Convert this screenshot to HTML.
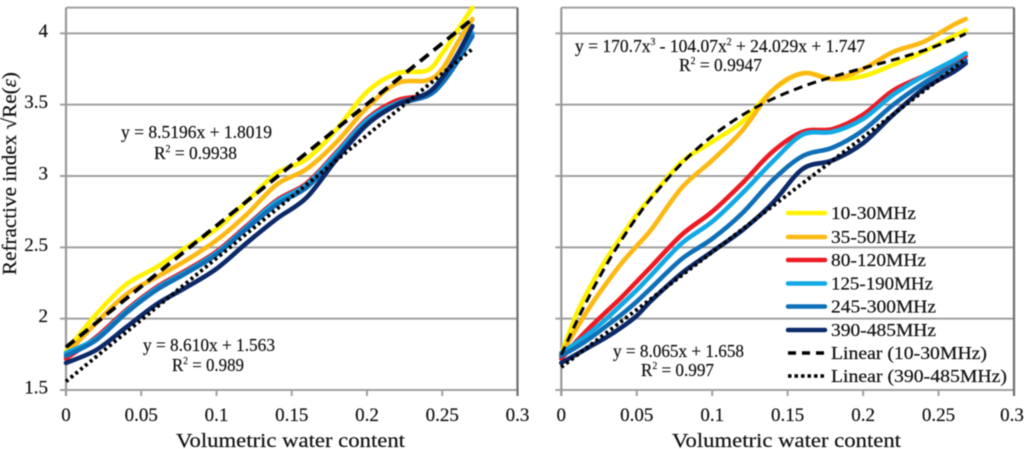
<!DOCTYPE html>
<html lang="en">
<head>
<meta charset="utf-8">
<title>Refractive index vs volumetric water content</title>
<style>
html,body{margin:0;padding:0;background:#fff;}
#chart{display:block;width:1024px;height:449px;font-family:"Liberation Serif",serif;filter:blur(0.5px);}
text{fill:#111;stroke:#111;stroke-width:0.2px;}
</style>
</head>
<body>
<svg id="chart" xmlns="http://www.w3.org/2000/svg" width="1024" height="449" viewBox="0 0 1024 449">
  <g id="left-panel"></g>
  <g id="right-panel"></g>

  <text transform="translate(16,275) rotate(-90)" font-size="20" textLength="203" lengthAdjust="spacingAndGlyphs">Refractive index √Re(<tspan font-style="italic">ε</tspan>)</text>
  <text x="176" y="447" font-size="20" textLength="229" lengthAdjust="spacingAndGlyphs">Volumetric water content</text>
  <text x="672" y="447" font-size="20" textLength="229" lengthAdjust="spacingAndGlyphs">Volumetric water content</text>

  <text x="121" y="138" font-size="18" textLength="151" lengthAdjust="spacingAndGlyphs">y = 8.5196x + 1.8019</text>
  <text x="154" y="159" font-size="18" textLength="83" lengthAdjust="spacingAndGlyphs">R<tspan font-size="10" dy="-7">2</tspan><tspan dy="7"> = 0.9938</tspan></text>
  <text x="143" y="351" font-size="18" textLength="132" lengthAdjust="spacingAndGlyphs">y = 8.610x + 1.563</text>
  <text x="172" y="371" font-size="18" textLength="72" lengthAdjust="spacingAndGlyphs">R<tspan font-size="10" dy="-7">2</tspan><tspan dy="7"> = 0.989</tspan></text>
  <text x="575" y="52" font-size="18" textLength="290" lengthAdjust="spacingAndGlyphs">y = 170.7x<tspan font-size="10" dy="-7">3</tspan><tspan dy="7"> - 104.07x</tspan><tspan font-size="10" dy="-7">2</tspan><tspan dy="7"> + 24.029x + 1.747</tspan></text>
  <text x="679" y="71" font-size="18" textLength="83" lengthAdjust="spacingAndGlyphs">R<tspan font-size="10" dy="-7">2</tspan><tspan dy="7"> = 0.9947</tspan></text>
  <text x="613" y="357" font-size="18" textLength="131" lengthAdjust="spacingAndGlyphs">y = 8.065x + 1.658</text>
  <text x="641" y="376" font-size="18" textLength="73" lengthAdjust="spacingAndGlyphs">R<tspan font-size="10" dy="-7">2</tspan><tspan dy="7"> = 0.997</tspan></text>

  <g id="legend">
    <g><line x1="788" x2="825" y1="213" y2="213" stroke="#fff200" stroke-width="4.5" stroke-linecap="round"/><text x="831" y="219" font-size="18" textLength="85" lengthAdjust="spacingAndGlyphs">10-30MHz</text></g>
    <g><line x1="788" x2="825" y1="237" y2="237" stroke="#fdb913" stroke-width="4.5" stroke-linecap="round"/><text x="831" y="243" font-size="18" textLength="85" lengthAdjust="spacingAndGlyphs">35-50MHz</text></g>
    <g><line x1="788" x2="825" y1="260" y2="260" stroke="#ed1c24" stroke-width="4.5" stroke-linecap="round"/><text x="831" y="266" font-size="18" textLength="95" lengthAdjust="spacingAndGlyphs">80-120MHz</text></g>
    <g><line x1="788" x2="825" y1="283.5" y2="283.5" stroke="#12a9e6" stroke-width="4.5" stroke-linecap="round"/><text x="831" y="289.5" font-size="18" textLength="102" lengthAdjust="spacingAndGlyphs">125-190MHz</text></g>
    <g><line x1="788" x2="825" y1="306.5" y2="306.5" stroke="#0f70b7" stroke-width="4.5" stroke-linecap="round"/><text x="831" y="312.5" font-size="18" textLength="105" lengthAdjust="spacingAndGlyphs">245-300MHz</text></g>
    <g><line x1="788" x2="825" y1="330" y2="330" stroke="#0c2a6a" stroke-width="4.5" stroke-linecap="round"/><text x="831" y="336" font-size="18" textLength="105" lengthAdjust="spacingAndGlyphs">390-485MHz</text></g>
    <g><line x1="788" x2="826" y1="353" y2="353" stroke="#000" stroke-width="3.5" stroke-dasharray="8 6"/><text x="831" y="359" font-size="18" textLength="156" lengthAdjust="spacingAndGlyphs">Linear (10-30MHz)</text></g>
    <g><line x1="788" x2="826" y1="376" y2="376" stroke="#000" stroke-width="3.5" stroke-dasharray="3.5 3"/><text x="831" y="382" font-size="18" textLength="176" lengthAdjust="spacingAndGlyphs">Linear (390-485MHz)</text></g>
  </g>
</svg>

<script>
// Axis tick labels
const xTicks = [0, 0.05, 0.1, 0.15, 0.2, 0.25, 0.3];
const yTicks = [1.5, 2, 2.5, 3, 3.5, 4];

// Series names
const seriesNames = ['10-30mhz', '35-50mhz', '80-120mhz', '125-190mhz', '245-300mhz', '390-485mhz'];

// Left panel values
const leftX = [0, 0.02, 0.04, 0.06, 0.08, 0.1, 0.12, 0.14, 0.16, 0.18, 0.2, 0.22, 0.24, 0.25, 0.26, 0.27];
const left10to30 = [1.77, 2.03, 2.24, 2.36, 2.5, 2.63, 2.82, 3.02, 3.12, 3.33, 3.59, 3.72, 3.74, 3.86, 4.02, 4.18];
const left35to50 = [1.75, 1.97, 2.17, 2.29, 2.41, 2.55, 2.73, 2.94, 3.05, 3.24, 3.48, 3.65, 3.67, 3.75, 3.93, 4.1];
const left80to120 = [1.72, 1.87, 2.06, 2.22, 2.34, 2.47, 2.65, 2.83, 2.95, 3.17, 3.4, 3.53, 3.57, 3.67, 3.82, 4.0];
const left125to190 = [1.76, 1.86, 2.05, 2.21, 2.33, 2.46, 2.64, 2.82, 2.94, 3.16, 3.39, 3.51, 3.57, 3.67, 3.82, 4.0];
const left245to300 = [1.74, 1.85, 2.04, 2.2, 2.32, 2.45, 2.63, 2.8, 2.92, 3.14, 3.37, 3.5, 3.56, 3.65, 3.8, 3.98];
const left390to485 = [1.69, 1.78, 1.94, 2.1, 2.22, 2.35, 2.53, 2.7, 2.85, 3.12, 3.36, 3.5, 3.58, 3.69, 3.85, 4.05];
const leftTrendX = [0, 0.27];
const leftTrendHigh = [1.8, 4.1];
const leftTrendLow = [1.56, 3.89];

// Right panel values
const rightX = [0, 0.01, 0.02, 0.03, 0.04, 0.05, 0.06, 0.08, 0.1, 0.12, 0.14, 0.16, 0.18, 0.2, 0.22, 0.24, 0.26, 0.268];
const right10to30 = [1.75, 2.03, 2.24, 2.42, 2.58, 2.73, 2.86, 3.1, 3.24, 3.38, 3.6, 3.72, 3.68, 3.7, 3.78, 3.87, 3.98, 4.02];
const right35to50 = [1.75, 1.93, 2.1, 2.25, 2.39, 2.51, 2.63, 2.92, 3.11, 3.32, 3.6, 3.72, 3.68, 3.75, 3.87, 3.94, 4.06, 4.1];
const right80to120 = [1.72, 1.84, 1.95, 2.05, 2.15, 2.26, 2.37, 2.59, 2.75, 2.95, 3.17, 3.31, 3.33, 3.43, 3.6, 3.7, 3.8, 3.84];
const right125to190 = [1.76, 1.83, 1.91, 2.0, 2.1, 2.2, 2.31, 2.53, 2.68, 2.88, 3.1, 3.29, 3.31, 3.4, 3.57, 3.7, 3.81, 3.86];
const right245to300 = [1.74, 1.8, 1.87, 1.95, 2.03, 2.12, 2.22, 2.42, 2.56, 2.74, 2.97, 3.14, 3.2, 3.32, 3.5, 3.65, 3.77, 3.81];
const right390to485 = [1.69, 1.75, 1.81, 1.87, 1.94, 2.02, 2.13, 2.32, 2.47, 2.62, 2.81, 3.05, 3.11, 3.23, 3.43, 3.61, 3.73, 3.79];
const rightTrendX = [0, 0.268];
const rightTrendLow = [1.66, 3.82];
const rightCurveHigh = [1.747, 1.977, 2.187, 2.379, 2.553, 2.71, 2.851, 3.091, 3.28, 3.427, 3.54, 3.627, 3.696, 3.756, 3.814, 3.879, 3.959, 3.998];

const seriesColors = ['#fff200', '#fdb913', '#ed1c24', '#12a9e6', '#0f70b7', '#0c2a6a'];
const NS = 'http://www.w3.org/2000/svg';

function make(parent, tag, attrs) {
  const el = document.createElementNS(NS, tag);
  for (const k in attrs) el.setAttribute(k, attrs[k]);
  parent.appendChild(el);
  return el;
}

function smoothPath(points) {
  let d = 'M' + points[0][0].toFixed(2) + ' ' + points[0][1].toFixed(2);
  for (let i = 0; i < points.length - 1; i++) {
    const p0 = points[Math.max(0, i - 1)];
    const p1 = points[i];
    const p2 = points[i + 1];
    const p3 = points[Math.min(points.length - 1, i + 2)];
    const c1x = p1[0] + (p2[0] - p0[0]) / 6;
    const c1y = p1[1] + (p2[1] - p0[1]) / 6;
    const c2x = p2[0] - (p3[0] - p1[0]) / 6;
    const c2y = p2[1] - (p3[1] - p1[1]) / 6;
    d += 'C' + c1x.toFixed(2) + ' ' + c1y.toFixed(2) + ' ' + c2x.toFixed(2) + ' ' + c2y.toFixed(2) + ' ' + p2[0].toFixed(2) + ' ' + p2[1].toFixed(2);
  }
  return d;
}

function drawPanel(group, prefix, x0, xEnd, xs, series, trendHighX, trendHigh, trendLowX, trendLow, dashHigh, dotLow, highWidth, showYLabels) {
  const sx = function (v) { return x0 + (v / 0.3) * (xEnd - x0); };
  const sy = function (v) { return 390 - (v - 1.5) * 142.67; };
  const yTop = sy(4.18);

  yTicks.forEach(function (t) {
    const grid = make(group, 'line', { x1: x0 - 6, x2: xEnd, y1: sy(t), y2: sy(t), stroke: '#a0a0a0', 'stroke-width': 2 });
    
    
    if (showYLabels) {
      const label = make(group, 'text', { x: x0 - 18, y: sy(t) + 3.5, 'text-anchor': 'end', 'font-size': 19 });
      label.textContent = String(t);
      
      
    }
  });

  xTicks.forEach(function (t) {
    const tick = make(group, 'line', { x1: sx(t), x2: sx(t), y1: 390, y2: 396, stroke: '#a0a0a0', 'stroke-width': 2 });
    
    
    const label = make(group, 'text', { x: sx(t) - (t === 0.3 && prefix === 'right' ? 2 : 0), y: 421, 'text-anchor': 'middle', 'font-size': 19 });
    label.textContent = String(t);
    
    
  });

  const topLine = make(group, 'line', { x1: x0, x2: xEnd, y1: yTop, y2: yTop, stroke: '#a0a0a0', 'stroke-width': 2 });
  
  
  const leftAxis = make(group, 'line', { x1: x0, x2: x0, y1: yTop, y2: 396, stroke: '#999', 'stroke-width': 2.2 });
  
  
  const rightBorder = make(group, 'line', { x1: xEnd, x2: xEnd, y1: yTop, y2: 396, stroke: '#6e6e6e', 'stroke-width': 2.2 });
  
  

  series.forEach(function (vals, i) {
    const pts = vals.map(function (v, j) { return [sx(xs[j]), sy(v)]; });
    const path = make(group, 'path', { d: smoothPath(pts), fill: 'none', stroke: seriesColors[i], 'stroke-width': 4.6, 'stroke-linecap': 'round', 'stroke-linejoin': 'round' });
    
    
  });

  const hiPts = trendHigh.map(function (v, j) { return [sx(trendHighX[j]), sy(v)]; });
  const hi = make(group, 'path', { d: smoothPath(hiPts), fill: 'none', stroke: '#000', 'stroke-width': highWidth, 'stroke-dasharray': dashHigh });
  
  

  const loPts = trendLow.map(function (v, j) { return [sx(trendLowX[j]), sy(v)]; });
  const lo = make(group, 'path', { d: smoothPath(loPts), fill: 'none', stroke: '#000', 'stroke-width': 3.8, 'stroke-dasharray': dotLow });
  
  
}

drawPanel(document.getElementById('left-panel'), 'left', 66, 517.5, leftX,
  [left10to30, left35to50, left80to120, left125to190, left245to300, left390to485],
  leftTrendX, leftTrendHigh, leftTrendX, leftTrendLow, '11 6.5', '3 3.2', 3.8, true);

drawPanel(document.getElementById('right-panel'), 'right', 561.3, 1014, rightX,
  [right10to30, right35to50, right80to120, right125to190, right245to300, right390to485],
  rightX, rightCurveHigh, rightTrendX, rightTrendLow, '9 5.5', '3 3.2', 3, false);
</script>
</body>
</html>
